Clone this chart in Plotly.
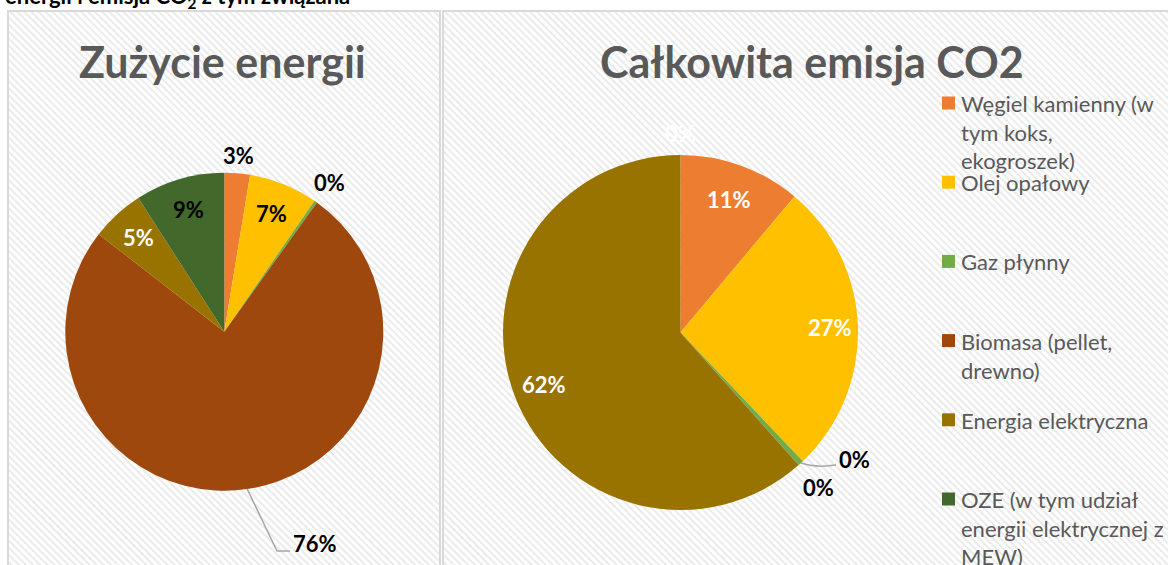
import base64
from math import sin, cos, pi
import plotly.graph_objects as go

W, H = 1168, 565

# ---------------- data ----------------
categories = [
    "Węgiel kamienny (w tym koks, ekogroszek)",
    "Olej opałowy",
    "Gaz płynny",
    "Biomasa (pellet, drewno)",
    "Energia elektryczna",
    "OZE (w tym udział energii elektrycznej z MEW)",
]
legend_labels = [
    "Węgiel kamienny (w<br>tym koks,<br>ekogroszek)",
    "Olej opałowy",
    "Gaz płynny",
    "Biomasa (pellet,<br>drewno)",
    "Energia elektryczna",
    "OZE (w tym udział<br>energii elektrycznej z<br>MEW)",
]
energy_share = [2.6, 7.0, 0.3, 75.6, 5.4, 9.1]      # Zużycie energii [%]
co2_share = [11.1, 26.8, 0.5, 0.02, 61.58, 0.0]     # Całkowita emisja CO2 [%]
colors = ["#ED7D31", "#FFC000", "#70AD47", "#9E480E", "#997300", "#43682B"]

title_left = "Zużycie energii"
title_right = "Całkowita emisja CO2"
header_text = "energii i emisja CO<sub>2</sub> z tym związana"

FONT = "Lato"


def px(x):
    return x / W


def py(y):
    return 1 - y / H


# pie geometry (pixels)
L_C, L_R = (224.3, 331.7), 159.0
R_C, R_R = (680.5, 332.5), 177.5


def domain(c, r):
    return dict(x=[px(c[0] - r), px(c[0] + r)], y=[py(c[1] + r), py(c[1] - r)])


def mid_angle(values, i):
    tot = sum(values)
    start = sum(values[:i])
    return 2 * pi * (start + values[i] / 2) / tot


def polar(c, r, values, i, f):
    a = mid_angle(values, i)
    return c[0] + f * r * sin(a), c[1] - f * r * cos(a)


fig = go.Figure()
for vals, c, r in [(energy_share, L_C, L_R), (co2_share, R_C, R_R)]:
    fig.add_trace(go.Pie(
        labels=categories, values=vals, sort=False, direction="clockwise",
        rotation=0, marker=dict(colors=colors, line=dict(width=0)),
        textinfo="none", hoverinfo="label+percent", showlegend=False,
        domain=domain(c, r),
    ))

annotations = []
shapes = []
images = []


def pct(v):
    return f"{round(v):d}%"


def add_label(x, y, text, color):
    annotations.append(dict(
        x=px(x), y=py(y), xref="paper", yref="paper", text=text,
        showarrow=False, xanchor="center", yanchor="middle",
        font=dict(family=FONT, size=22, color=color, weight="bold"),
    ))


# left pie labels: (index, radial factor, colour)
left_specs = [(0, 1.11, "#000000"), (1, 0.80, "#000000"), (2, 1.15, "#000000"),
              (4, 0.80, "#FFFFFF"), (5, 0.80, "#000000")]
for i, f, col in left_specs:
    x, y = polar(L_C, L_R, energy_share, i, f)
    add_label(x, y, pct(energy_share[i]), col)

# biomasa label with leader line
sx, sy = polar(L_C, L_R, energy_share, 3, 1.0)
add_label(315, 543, pct(energy_share[3]), "#000000")
shapes.append(dict(type="path", xref="paper", yref="paper",
                   path=f"M {px(sx)} {py(sy)} L {px(277)} {py(551)} L {px(290)} {py(551)}",
                   line=dict(color="#A6A6A6", width=1.5)))

right_specs = [(0, 0.80, "#FFFFFF"), (1, 0.845, "#FFFFFF"), (3, 1.17, "#000000"),
               (4, 0.82, "#FFFFFF"), (5, 1.12, "#FFFFFF")]
for i, f, col in right_specs:
    x, y = polar(R_C, R_R, co2_share, i, f)
    add_label(x, y, pct(co2_share[i]), col)

sx, sy = polar(R_C, R_R, co2_share, 2, 1.0)
add_label(854, 459, pct(co2_share[2]), "#000000")
shapes.append(dict(type="path", xref="paper", yref="paper",
                   path=f"M {px(sx)} {py(sy)} Q {px(815)} {py(468)} {px(836)} {py(465)}",
                   line=dict(color="#A6A6A6", width=1.5)))

# titles
for text, x in [(title_left, 222.5), (title_right, 812)]:
    annotations.append(dict(
        x=px(x), y=py(62), xref="paper", yref="paper", text=text, showarrow=False,
        xanchor="center", yanchor="middle",
        font=dict(family=FONT, size=43, color="#595959", weight="bold"),
    ))

# header line (cut off at top of the window, as in the source page)
annotations.append(dict(
    x=px(3), y=py(-3), xref="paper", yref="paper", text=header_text, showarrow=False,
    xanchor="left", yanchor="middle",
    font=dict(family=FONT, size=22, color="#000000", weight="bold"),
))

# legend (manual, fixed pitch like Excel)
for k, (lab, col) in enumerate(zip(legend_labels, colors)):
    cy = 103 + 79.2 * k
    shapes.append(dict(type="rect", xref="paper", yref="paper",
                       x0=px(942), x1=px(955), y0=py(cy + 6.5), y1=py(cy - 6.5),
                       fillcolor=col, line=dict(width=0)))
    annotations.append(dict(
        x=px(959), y=py(cy - 15), xref="paper", yref="paper", text=lab, showarrow=False,
        xanchor="left", yanchor="top", align="left",
        font=dict(family=FONT, size=22, color="#595959"),
    ))


# hatched panel backgrounds
def hatch_svg(w, h):
    svg = (
        f'<svg xmlns="http://www.w3.org/2000/svg" width="{w}" height="{h}" '
        f'viewBox="0 0 {w} {h}" preserveAspectRatio="none">'
        '<defs><pattern id="p" width="5" height="5" patternUnits="userSpaceOnUse" '
        'patternTransform="rotate(-45)">'
        '<rect width="5" height="5" fill="#ffffff"/>'
        '<rect width="2" height="5" fill="#ebebeb"/></pattern></defs>'
        f'<rect width="{w}" height="{h}" fill="url(#p)"/></svg>'
    )
    return "data:image/svg+xml;base64," + base64.b64encode(svg.encode()).decode()


for x0, x1 in [(8, 440), (443, 1190)]:
    y0, y1 = 11, 580
    images.append(dict(source=hatch_svg(x1 - x0, y1 - y0), xref="paper", yref="paper",
                       x=px(x0), y=py(y0), sizex=(x1 - x0) / W, sizey=(y1 - y0) / H,
                       xanchor="left", yanchor="top", sizing="stretch", layer="below"))
    shapes.append(dict(type="rect", xref="paper", yref="paper",
                       x0=px(x0), x1=px(x1), y0=py(y1), y1=py(y0),
                       line=dict(color="#D9D9D9", width=2), fillcolor="rgba(0,0,0,0)",
                       layer="below"))

fig.update_layout(
    width=W, height=H, margin=dict(l=0, r=0, t=0, b=0),
    paper_bgcolor="#FFFFFF", plot_bgcolor="#FFFFFF",
    annotations=annotations, shapes=shapes, images=images,
    showlegend=False, font=dict(family=FONT),
)

# remove the default 8px page margin so the figure sits at the window's corner
fig.write_html("out.html",
               config={"displayModeBar": False},
               post_script="document.body.style.margin='0';document.body.style.overflow='hidden';")
